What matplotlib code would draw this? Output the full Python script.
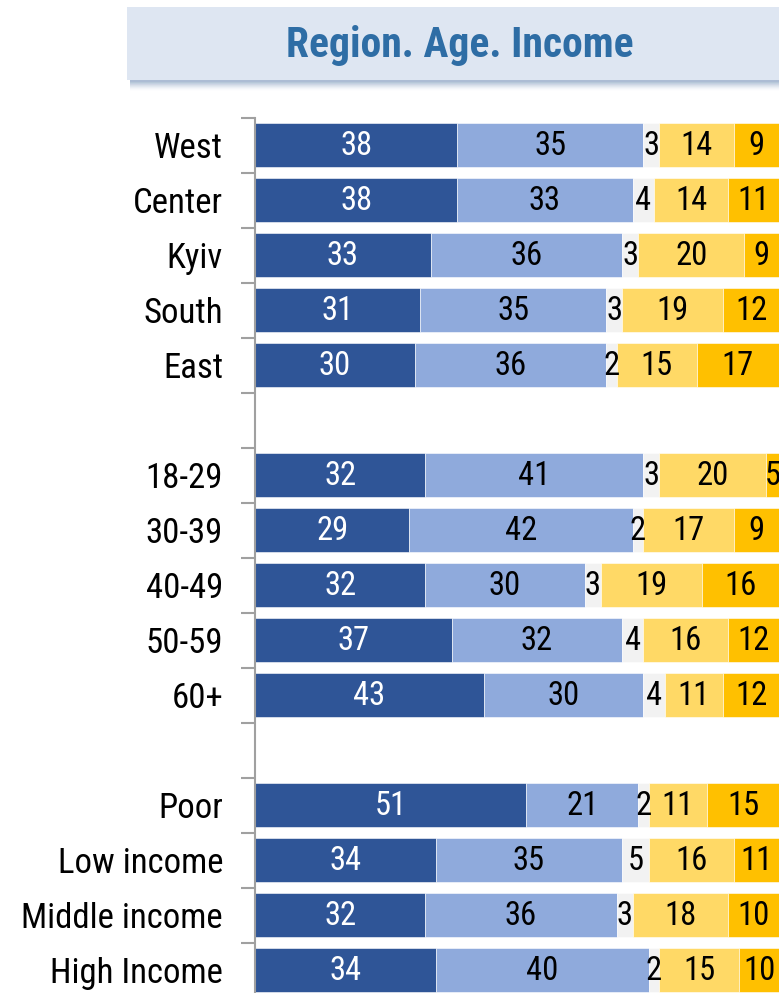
import matplotlib
matplotlib.use("Agg")
import matplotlib.pyplot as plt
from matplotlib.patches import Rectangle
from matplotlib import font_manager

names = {f.name for f in font_manager.fontManager.ttflist}
font = 'Liberation Sans'
for cand in ['Liberation Sans Narrow', 'Arimo Narrow', 'Roboto Condensed', 'Archivo Narrow', 'PT Sans Narrow']:
    if cand in names:
        font = cand
        break
plt.rcParams['font.family'] = [font, 'DejaVu Sans']

categories = ["West", "Center", "Kyiv", "South", "East", "",
              "18-29", "30-39", "40-49", "50-59", "60+", "",
              "Poor", "Low income", "Middle income", "High Income"]
s1 = [38, 38, 33, 31, 30, None, 32, 29, 32, 37, 43, None, 51, 34, 32, 34]
s2 = [35, 33, 36, 35, 36, None, 41, 42, 30, 32, 30, None, 21, 35, 36, 40]
s3 = [3, 4, 3, 3, 2, None, 3, 2, 3, 4, 4, None, 2, 5, 3, 2]
s4 = [14, 14, 20, 19, 15, None, 20, 17, 19, 16, 11, None, 11, 16, 18, 15]
s5 = [9, 11, 9, 12, 17, None, 5, 9, 16, 12, 12, None, 15, 11, 10, 10]
series = [s1, s2, s3, s4, s5]
colors = ["#2F5597", "#8FAADC", "#F2F2F2", "#FFD966", "#FFC000"]
text_colors = ["white", "black", "black", "black", "black"]
title = "Region. Age. Income"

W, H = 779, 993
fig = plt.figure(figsize=(W / 100, H / 100), dpi=100)

n = len(categories)
pitch = 55
top_px = 117.5
bottom_px = top_px + n * pitch
ax = fig.add_axes([255 / W, (H - bottom_px) / H, (W - 255) / W, (bottom_px - top_px) / H])

xmax = (W - 255) / 5.32
for i in range(n):
    if s1[i] is None:
        continue
    left = 0
    for k, s in enumerate(series):
        v = s[i]
        ax.barh(i, v, left=left, height=0.8, color=colors[k], edgecolor="white", linewidth=0.4)
        cx = left + v / 2
        if left + v > xmax:
            cx = (left + xmax) / 2
        ax.text(cx, i + 0.02, str(v), ha="center", va="center", fontsize=23.5,
                color=text_colors[k])
        left += v

ax.set_xlim(0, xmax)
ax.set_ylim(n - 0.5, -0.5)
ax.set_yticks(range(n))
ax.set_yticklabels(categories, fontsize=25)
ax.set_yticks([i + 0.5 for i in range(-1, n)], minor=True)
ax.tick_params(axis="y", which="major", length=0, pad=23)
ax.tick_params(axis="y", which="minor", length=10, width=1.5, color="#A0A0A0")
ax.set_xticks([])
for sp in ["top", "right", "bottom"]:
    ax.spines[sp].set_visible(False)
ax.spines["left"].set_color("#A0A0A0")
ax.spines["left"].set_linewidth(1.5)

# title box with shadow
bx0, bx1, by0, by1 = 127, 790, 7, 80
for j in range(10):
    a = 0.12 * (1 - j / 10)
    fig.patches.append(Rectangle(((bx0 + 3) / W, (H - by1 - 2 - j) / H), (bx1 - bx0) / W, (by1 - by0) / H,
                                 transform=fig.transFigure, facecolor="#5F82B0", alpha=a,
                                 edgecolor="none", zorder=0))
fig.patches.append(Rectangle((bx0 / W, (H - by1) / H), (bx1 - bx0) / W, (by1 - by0) / H,
                             transform=fig.transFigure, facecolor="#DEE6F2",
                             edgecolor="none", zorder=1))
fig.text(460 / W, 1 - 45 / H, title, ha="center", va="center", fontsize=30,
         fontweight="bold", color="#2E6DA5", zorder=2)

fig.savefig("out.png", dpi=100)
